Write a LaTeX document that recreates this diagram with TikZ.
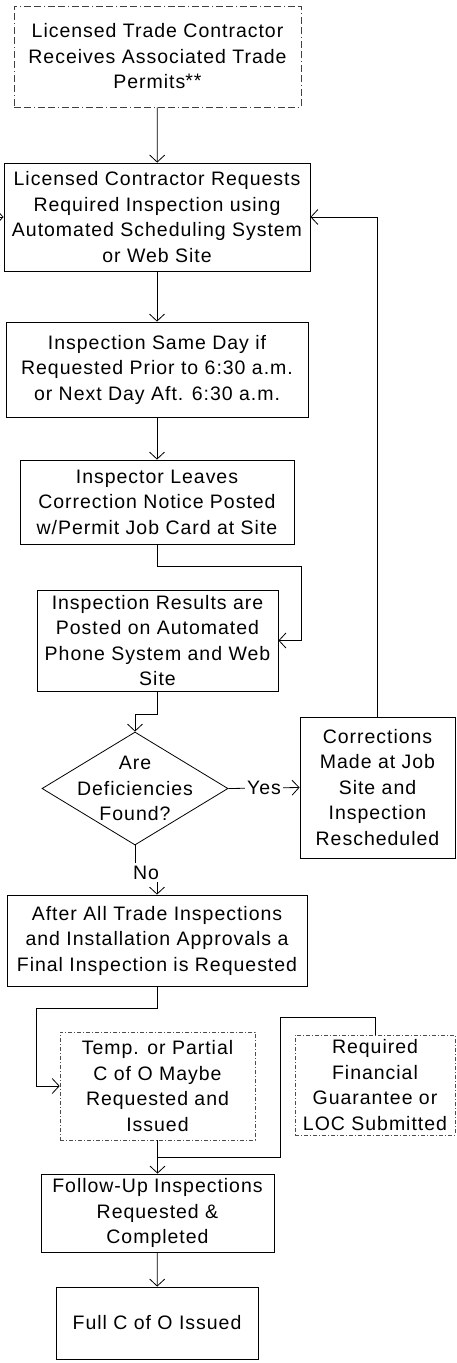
\documentclass[tikz,border=0pt]{standalone}
\usepackage{fontspec}
\setmainfont{Liberation Sans}[LetterSpace=5]
\usepackage{tikz}
\usetikzlibrary{shapes.geometric,arrows.meta}

\begin{document}
\begin{tikzpicture}[x=1pt, y=-1pt, line width=0.8pt,
    font=\fontsize{19.5}{25.5}\selectfont,
    >={Straight Barb[length=7pt,width=15pt]},
    main/.style = {draw, rectangle, inner sep=0pt, align=center},
    dotbox/.style = {main, draw=black!75, dash pattern=on 7pt off 3pt on 7pt off 3pt on 1pt off 3pt},
    thinbox/.style = {main, draw=black!70, line width=0.6pt, dash pattern=on 4pt off 2pt on 1pt off 2pt}]
            \useasboundingbox (0,0) rectangle (457,1363);
            \node[dotbox, minimum width=287pt, minimum height=101pt] (1) at (157.5,56.5) {Licensed Trade Contractor\\Receives Associated Trade\\Permits\raisebox{1pt}{**}};
            \node[main, minimum width=306pt, minimum height=108pt] (2) at (157,217) {Licensed Contractor Requests\\Required Inspection using\\Automated Scheduling System\\or Web Site};
            \node[main, minimum width=302pt, minimum height=95pt] (3) at (157,369.5) {Inspection Same Day if\\Requested Prior to 6:30 a.m.\\or Next Day Aft. 6:30 a.m.};
            \node[main, minimum width=274pt, minimum height=84pt] (4) at (157,502) {Inspector Leaves\\Correction Notice Posted\\w/Permit Job Card at Site};
            \node[main, minimum width=241pt, minimum height=101pt] (5) at (157.5,640.5) {Inspection Results are\\Posted on Automated\\Phone System and Web\\Site};
            \node[draw, diamond, inner sep=0pt, minimum width=186pt, minimum height=113pt] (dec) at (135,788.5) {};
            \node[align=center] (dectext) at (dec) {Are\\Deficiencies\\Found?};
            \node[main, minimum width=155pt, minimum height=141pt] (6) at (377.5,787.5) {Corrections\\Made at Job\\Site and\\Inspection\\Rescheduled};
            \node[main, minimum width=300pt, minimum height=91pt] (7) at (157,940.5) {After All Trade Inspections\\and Installation Approvals a\\Final Inspection is Requested};
            \node[thinbox, minimum width=195pt, minimum height=108pt] (8) at (157.5,1086) {Temp. or Partial\\C of O Maybe\\Requested and\\Issued};
            \node[thinbox, minimum width=160pt, minimum height=100pt] (9) at (375,1085) {Required\\Financial\\Guarantee or\\LOC Submitted};
            \node[main, minimum width=233pt, minimum height=78pt] (10) at (157.5,1213) {Follow-Up Inspections\\Requested \&\\Completed};
            \node[main, minimum width=202pt, minimum height=72pt] (11) at (157,1323) {Full C of O Issued};
            \coordinate (in) at (-20,217);
            \coordinate (m) at ([yshift=16pt]10.north);
            \draw[->] (1) -- (2);
            \draw[->] (in) -- (2.west);
            \draw[->] (2) -- (3);
            \draw[->] (3) -- (4);
            \draw[->] (4.south) -- ++(0,22) -| ([xshift=23pt]5.east) -- (5.east);
            \draw[->] (5.south) -- ++(0,23) -| (dec.north);
            \draw[->] (dec.east) -- node[fill=white, inner sep=2pt]{Yes} (6.west);
            \draw[->] (dec.south) -- ++(0,27) -| node[pos=0.25, fill=white, inner sep=3pt]{No} (7.north);
            \draw[->] (6.north) |- (2.east);
            \draw[->] (7.south) -- ++(0,22) -| ([xshift=-23pt]8.west) -- (8.west);
            \draw (9.north) -- ++(0,-17) -| ([xshift=123pt]m) -- (m);
            \draw[->] (8) -- (10);
            \draw[->] (10) -- (11);
            \end{tikzpicture}
\end{document}
